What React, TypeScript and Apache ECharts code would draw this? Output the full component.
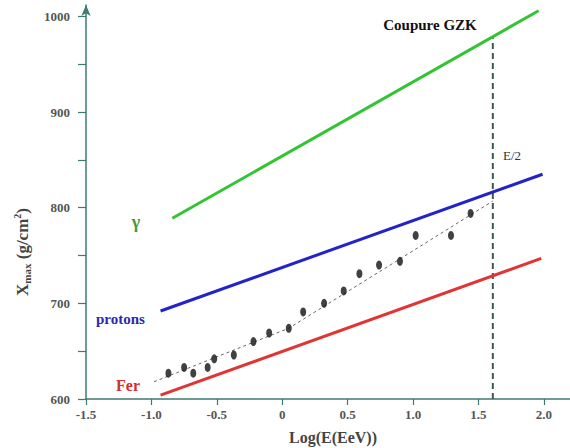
import React, { useEffect, useRef } from "react";
import * as echarts from "echarts";

const SERIF = "Liberation Serif";

// axis ticks
const xTicks = [-1.5, -1.0, -0.5, 0, 0.5, 1.0, 1.5, 2.0];
const yTicks = [600, 650, 700, 750, 800, 850, 900, 950, 1000];
const yLabels = [600, 700, 800, 900, 1000];

// measured Xmax points
const dataX = [-0.87, -0.75, -0.68, -0.57, -0.52, -0.37, -0.22, -0.1, 0.05, 0.16, 0.32, 0.47, 0.59, 0.74, 0.9, 1.02, 1.29, 1.44];
const dataY = [627, 633, 627, 633, 642, 646, 660, 669, 674, 691, 700, 713, 731, 740, 744, 771, 771, 794];

// fit (dotted)
const fitX = [-0.98, 0.05, 1.61];
const fitY = [618, 674, 807];

// model lines
const gammaX = [-0.84, 1.96];
const gammaY = [789, 1006];
const protonX = [-0.93, 1.99];
const protonY = [692, 835];
const ferX = [-0.93, 1.98];
const ferY = [604, 747];

// GZK cut
const gzkX = [1.61, 1.61];
const gzkY = [600, 978];

const zip = (xs: number[], ys: number[]) => xs.map((x, i) => [x, ys[i]]);

const AXIS = "#3f7a72";

export default function App() {
  const ref = useRef<HTMLDivElement>(null);
  useEffect(() => {
    if (!ref.current) return;
    const chart = echarts.init(ref.current, undefined, { renderer: "svg" });
    const lineSeries = (name: string, xs: number[], ys: number[], color: string) => ({
      name,
      type: "line",
      data: zip(xs, ys),
      showSymbol: false,
      symbol: "none",
      lineStyle: { color, width: 3 },
      z: 3,
    });
    chart.setOption({
      animation: false,
      backgroundColor: "#ffffff",
      grid: { left: 86, right: 0, top: 5, bottom: 49 },
      xAxis: {
        type: "value",
        min: -1.5,
        max: 2.2,
        axisLine: { show: true, onZero: false, lineStyle: { color: AXIS, width: 1.5 } },
        axisTick: { show: true, customValues: xTicks, length: 6, lineStyle: { color: AXIS, width: 1.2 } },
        axisLabel: {
          customValues: xTicks,
          formatter: (v: number) => (v === 0 ? "0" : v.toFixed(1)),
          margin: 9,
          fontFamily: SERIF,
          fontSize: 13,
          fontWeight: "bold",
          color: "#555",
        },
        splitLine: { show: false },
      },
      yAxis: {
        type: "value",
        min: 600,
        max: 1012,
        axisLine: {
          show: true,
          onZero: false,
          symbol: ["none", "arrow"],
          symbolSize: [7, 11],
          lineStyle: { color: AXIS, width: 1.5 },
        },
        axisTick: { show: true, customValues: yTicks, length: 8, lineStyle: { color: AXIS, width: 1.2 } },
        axisLabel: {
          customValues: yLabels,
          formatter: (v: number) => String(v),
          margin: 16,
          fontFamily: SERIF,
          fontSize: 13,
          fontWeight: "bold",
          color: "#555",
        },
        splitLine: { show: false },
      },
      series: [
        lineSeries("gamma", gammaX, gammaY, "#33c433"),
        lineSeries("protons", protonX, protonY, "#2323c8"),
        lineSeries("fer", ferX, ferY, "#e03535"),
        {
          name: "fit",
          type: "line",
          data: zip(fitX, fitY),
          symbol: "none",
          lineStyle: { color: "#666", width: 1, type: [3, 3] },
          z: 2,
        },
        {
          name: "gzk",
          type: "line",
          data: zip(gzkX, gzkY),
          symbol: "none",
          lineStyle: { color: "#3a5a52", width: 2, type: [6, 4] },
          z: 2,
        },
        {
          name: "data",
          type: "scatter",
          data: zip(dataX, dataY),
          symbol: "circle",
          symbolSize: [6, 9],
          itemStyle: { color: "#111" },
          z: 4,
        },
      ],
      graphic: [
        {
          type: "text",
          x: 22,
          y: 252,
          rotation: Math.PI / 2,
          style: {
            text: "{a|X}{s|max}{a| (g/cm}{p|2}{a|)}",
            align: "center",
            verticalAlign: "middle",
            rich: {
              a: { fontSize: 17, fontWeight: "bold", fontFamily: SERIF, fill: "#444", lineHeight: 20, verticalAlign: "middle" },
              s: { fontSize: 11, fontWeight: "bold", fontFamily: SERIF, fill: "#444", lineHeight: 20, verticalAlign: "bottom" },
              p: { fontSize: 10, fontWeight: "bold", fontFamily: SERIF, fill: "#444", lineHeight: 20, verticalAlign: "top" },
            },
          },
        },
        {
          type: "text",
          x: 333,
          y: 437,
          style: { text: "Log(E(EeV))", align: "center", verticalAlign: "middle", fontFamily: SERIF, fontSize: 16, fontWeight: "bold", fill: "#444" },
        },
        {
          type: "text",
          x: 430,
          y: 25,
          style: { text: "Coupure GZK", align: "center", verticalAlign: "middle", fontFamily: SERIF, fontSize: 15, fontWeight: "bold", fill: "#111" },
        },
        {
          type: "text",
          x: 503,
          y: 155,
          style: { text: "E/2", align: "left", verticalAlign: "middle", fontFamily: SERIF, fontSize: 13, fill: "#333" },
        },
        {
          type: "text",
          x: 136,
          y: 222,
          style: { text: "γ", align: "center", verticalAlign: "middle", fontFamily: SERIF, fontSize: 18, fontWeight: "bold", fill: "#3a9a3a" },
        },
        {
          type: "text",
          x: 96,
          y: 319,
          style: { text: "protons", align: "left", verticalAlign: "middle", fontFamily: SERIF, fontSize: 15, fontWeight: "bold", fill: "#2a2ab0" },
        },
        {
          type: "text",
          x: 116,
          y: 385,
          style: { text: "Fer", align: "left", verticalAlign: "middle", fontFamily: SERIF, fontSize: 16, fontWeight: "bold", fill: "#d03030" },
        },
      ],
    });
    return () => chart.dispose();
  }, []);
  return <div ref={ref} style={{ position: "fixed", left: 0, top: 0, width: 570, height: 448 }} />;
}
